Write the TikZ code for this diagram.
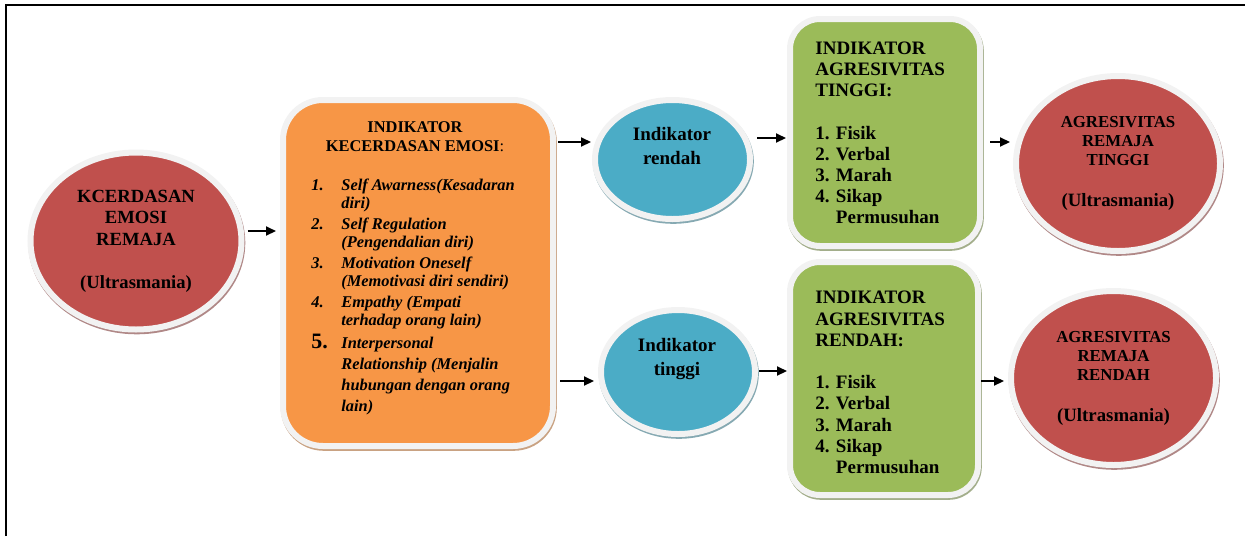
\documentclass[tikz,border=0pt]{standalone}
\usepackage{xcolor}
\usepackage{fontspec}
\setmainfont{Liberation Serif}
\usepackage{tikz}
\usetikzlibrary{calc,arrows.meta,shapes.geometric}

\definecolor{merah}{HTML}{C0504D}
\definecolor{oranye}{HTML}{F79646}
\definecolor{biru}{HTML}{4BACC6}
\definecolor{hijau}{HTML}{9BBB59}
\definecolor{cincin}{HTML}{F2F2F2}

\begin{document}
\begin{tikzpicture}[x=0.5pt,y=-0.5pt,
    tepi/.style={draw=cincin, line width=3pt},
    bayang/.style={preaction={draw=#1, line width=3pt,
        transform canvas={xshift=0.4pt,yshift=-0.9pt}}},
    elips/.style={ellipse, tepi, inner sep=0pt, align=center},
    kotak/.style={rectangle, rounded corners=#1, tepi},
    teks/.style={inner sep=0pt},
    panah/.style={-{Triangle[length=5pt,width=4.5pt]}, line width=1pt}]
    \useasboundingbox (0,0) rectangle (1245,536);
    \draw[line width=1pt] (6,536) -- (6,5) -- (1245,5); % frame

    % source
    \node[elips, fill=merah, bayang=merah!45!gray!80,
          minimum width=105.5pt, minimum height=88.5pt,
          font=\bfseries\fontsize{9.3}{10.75}\selectfont] (kecerdasan) at (136,241)
          {KCERDASAN\\EMOSI\\REMAJA\\[10.75pt](Ultrasmania)};

    % indicators of emotional intelligence
    \node[kotak=20pt, fill=oranye, bayang=oranye!50!gray!80,
          minimum width=135pt, minimum height=173pt] (indikatorke) at (418,273) {};
    \node[teks, align=center, font=\bfseries\fontsize{8.2}{9.5}\selectfont] (judulke) at (415,136.5)
          {INDIKATOR\\KECERDASAN EMOSI\textmd{:}};
    \node[teks, anchor=west, font=\bfseries\itshape\fontsize{8.2}{9}\selectfont] (daftarke) at (311,297.5) {%
      \begin{tabular}{@{}p{15pt}@{}l@{}}
        1. & Self Awarness(Kesadaran\\
           & diri)\\[1.5pt]
        2. & Self Regulation\\
           & (Pengendalian diri)\\[1.5pt]
        3. & Motivation Oneself\\
           & (Memotivasi diri sendiri)\\[1.5pt]
        4. & Empathy (Empati\\
           & terhadap orang lain)\\[1.5pt]
        {\upshape\fontsize{11}{9}\selectfont 5.} & Interpersonal\\[1.5pt]
           & Relationship (Menjalin\\[1.5pt]
           & hubungan dengan orang\\[1.5pt]
           & lain)
      \end{tabular}};

    % low / high
    \node[elips, fill=biru, bayang=biru!45!gray!80,
          minimum width=77.5pt, minimum height=59.5pt] (rendah) at (672.5,159.5) {};
    \node[teks, align=center, font=\bfseries\fontsize{9.5}{12}\selectfont] (rendahteks) at (672,146)
          {Indikator\\rendah};
    \node[elips, fill=biru, bayang=biru!45!gray!80,
          minimum width=77pt, minimum height=62pt] (tinggi) at (678,372) {};
    \node[teks, align=center, font=\bfseries\fontsize{9.5}{12}\selectfont] (tinggiteks) at (677,359)
          {Indikator\\tinggi};

    % indicators of aggressiveness
    \node[kotak=15pt, fill=hijau, bayang=hijau!45!gray!80,
          minimum width=95pt, minimum height=113.5pt] (agrtinggi) at (885,132.5) {};
    \node[teks, anchor=west, align=left, font=\bfseries\fontsize{9.5}{10.6}\selectfont] (agrtinggiteks) at (815,133)
          {INDIKATOR\\AGRESIVITAS\\TINGGI:\\[10.6pt]1. Fisik\\2. Verbal\\3. Marah\\4. Sikap\\\phantom{4. }Permusuhan};
    \node[kotak=15pt, fill=hijau, bayang=hijau!45!gray!80,
          minimum width=94pt, minimum height=116.5pt] (agrrendah) at (884,378.5) {};
    \node[teks, anchor=west, align=left, font=\bfseries\fontsize{9.5}{10.6}\selectfont] (agrrendahteks) at (815,382.5)
          {INDIKATOR\\AGRESIVITAS\\RENDAH:\\[10.6pt]1. Fisik\\2. Verbal\\3. Marah\\4. Sikap\\\phantom{4. }Permusuhan};

    % results
    \node[elips, fill=merah, bayang=merah!45!gray!80,
          minimum width=102pt, minimum height=87.5pt,
          font=\bfseries\fontsize{8.4}{9.5}\selectfont] (hasiltinggi) at (1118,163.5)
          {AGRESIVITAS\\REMAJA\\TINGGI\\[11pt]{\fontsize{9.4}{9.5}\selectfont(Ultrasmania)}};
    \node[elips, fill=merah, bayang=merah!45!gray!80,
          minimum width=102.5pt, minimum height=87pt,
          font=\bfseries\fontsize{8.4}{9.5}\selectfont] (hasilrendah) at (1113.5,378)
          {AGRESIVITAS\\REMAJA\\RENDAH\\[11pt]{\fontsize{9.4}{9.5}\selectfont(Ultrasmania)}};

    % arrows
    \draw[panah, shorten <=1.5pt, shorten >=2pt] (kecerdasan.east |- 0,231) -- (indikatorke.west |- 0,231);
    \draw[panah, shorten <=1pt, shorten >=0.5pt] (indikatorke.east |- 0,142) -- (rendah.west |- 0,142);
    \draw[panah, shorten <=2pt, shorten >=2pt] (indikatorke.east |- 0,381) -- (tinggi.west |- 0,381);
    \draw[panah, shorten <=2pt, shorten >=0.5pt] (rendah.east |- 0,138) -- (agrtinggi.west |- 0,138);
    \draw[panah, shorten <=0.5pt] (tinggi.east |- 0,371) -- (agrrendah.west |- 0,371);
    \draw[panah, shorten <=3.5pt, shorten >=1.5pt] (agrtinggi.east |- 0,142) -- (hasiltinggi.west |- 0,142);
    \draw[panah, shorten >=2pt] (agrrendah.east |- 0,381) -- (hasilrendah.west |- 0,381);
\end{tikzpicture}
\end{document}
